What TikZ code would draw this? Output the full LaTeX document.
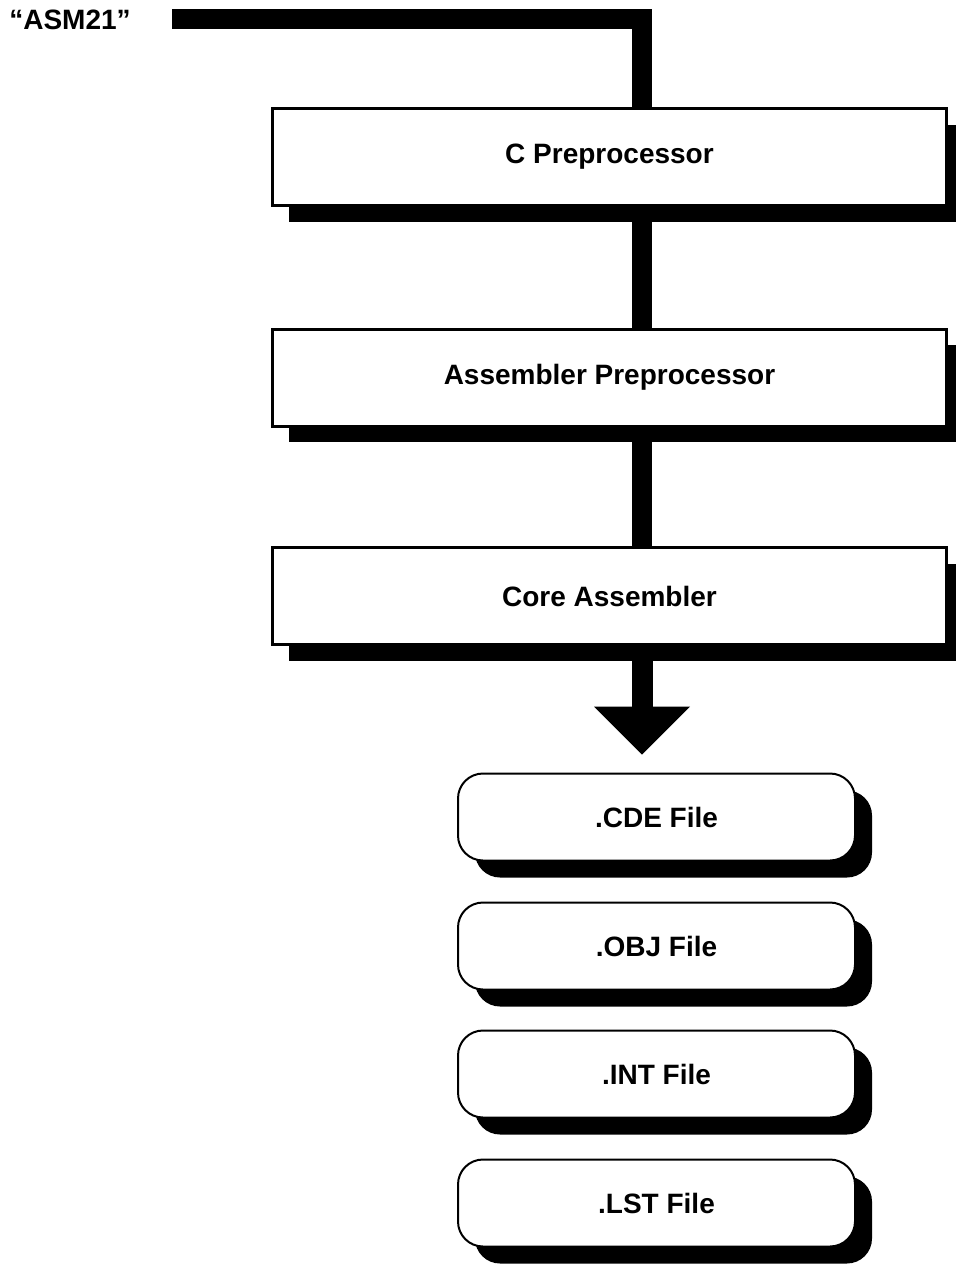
\documentclass[tikz,border=0pt]{standalone}
\usepackage{fontspec}
\setmainfont{Liberation Sans}
\usetikzlibrary{arrows.meta,shadows}

\begin{document}
\begin{tikzpicture}
[every node/.style={inner sep=0pt, font=\bfseries\fontsize{28}{34}\selectfont},
 stage/.style={rectangle, minimum width=674pt, minimum height=97pt, fill=white, line width=3pt, draw=black,
   drop shadow={shadow xshift=16pt, shadow yshift=-16pt, fill=black, opacity=1}},
 outfile/.style={rectangle, rounded corners=25pt, minimum width=397pt, minimum height=87pt, fill=white, line width=2pt, draw=black,
   drop shadow={shadow xshift=17pt, shadow yshift=-17pt, fill=black, opacity=1}},
 pipe/.style={line width=20pt, draw=black}]
\useasboundingbox (0pt, 0pt) rectangle (956pt, -1264pt);
\node (asm) at (70.0pt, -20.0pt) {“ASM21”};
\coordinate (start) at (172.0pt, -19.0pt);
\coordinate (spine) at (642.0pt, 0pt);
\node (cpp) [stage] at (609.5pt, -157.0pt) {C Preprocessor};
\node (app) [stage] at (609.5pt, -377.5pt) {Assembler Preprocessor};
\node (core) [stage] at (609.5pt, -596.0pt) {Core Assembler};
\node (cde) [outfile] at (656.5pt, -817.0pt) {.CDE File};
\node (obj) [outfile] at (656.5pt, -946.0pt) {.OBJ File};
\node (int) [outfile] at (656.5pt, -1074.0pt) {.INT File};
\node (lst) [outfile] at (656.5pt, -1203.0pt) {.LST File};
\draw [pipe] (start) -| (spine |- cpp.north);
\draw [pipe] (spine |- cpp.south) -- (spine |- app.north);
\draw [pipe] (spine |- app.south) -- (spine |- core.north);
\draw [line width=21pt, -{Triangle[width=96pt, length=48pt, line width=0pt]}, shorten >=18pt] (spine |- core.south) -- (spine |- cde.north);
\end{tikzpicture}
\end{document}
